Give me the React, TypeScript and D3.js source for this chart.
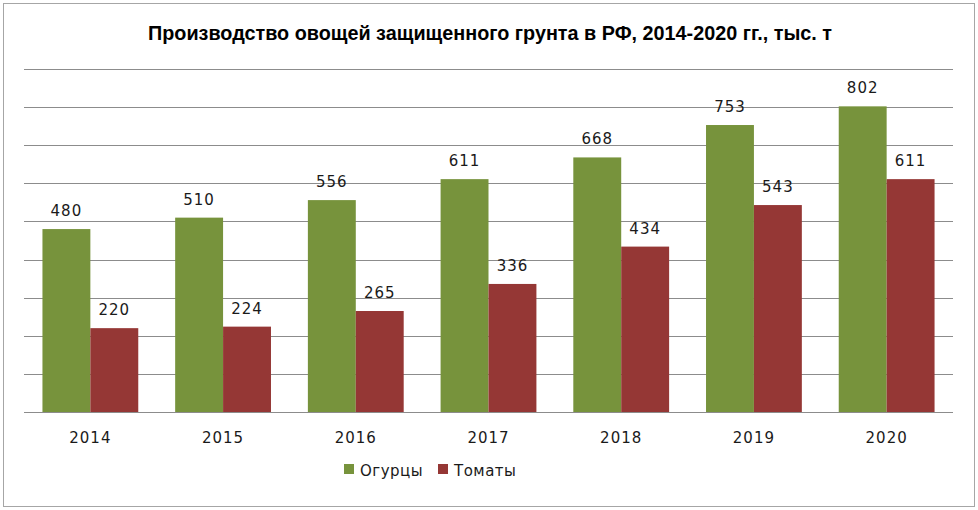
import { useEffect, useRef } from "react"
import * as d3 from "d3"

const YEARS = ["2014", "2015", "2016", "2017", "2018", "2019", "2020"]
const CUCUMBERS = [480, 510, 556, 611, 668, 753, 802]
const TOMATOES = [220, 224, 265, 336, 434, 543, 611]
const SERIES_NAMES = ["Огурцы", "Томаты"]
const SERIES_COLORS = ["#77933C", "#953735"]
const Y_TICKS = [0, 100, 200, 300, 400, 500, 600, 700, 800, 900]

const W = 978
const H = 510
const PLOT_L = 24
const PLOT_R = 953
const PLOT_T = 69
const PLOT_B = 412

const LABEL_FONT = "'DejaVu Sans', sans-serif"

export default function App() {
  const svgRef = useRef<SVGSVGElement>(null)

  useEffect(() => {
    if (!svgRef.current) return
    const svg = d3.select(svgRef.current)
    svg.selectAll("*").remove()

    // outer frame
    svg
      .append("rect")
      .attr("x", 3.5)
      .attr("y", 3.5)
      .attr("width", W - 7)
      .attr("height", H - 7)
      .attr("fill", "#fff")
      .attr("stroke", "#a6a6a6")
      .attr("stroke-width", 1)

    svg
      .append("text")
      .attr("x", 490)
      .attr("y", 40)
      .attr("text-anchor", "middle")
      .attr("font-family", "'Liberation Sans', Arial, sans-serif")
      .attr("font-weight", 700)
      .attr("font-size", 20)
      .attr("textLength", 684)
      .attr("lengthAdjust", "spacingAndGlyphs")
      .attr("fill", "#000")
      .text("Производство овощей защищенного грунта в РФ, 2014-2020 гг., тыс. т")

    const x0 = d3
      .scaleBand<string>()
      .domain(YEARS)
      .range([PLOT_L, PLOT_R])
      .paddingInner(0.278)
      .paddingOuter(0.139)

    const x1 = d3
      .scaleBand<number>()
      .domain([0, 1])
      .range([0, x0.bandwidth()])

    const y = d3.scaleLinear().domain([0, 900]).range([PLOT_B, PLOT_T])

    // gridlines
    svg
      .append("g")
      .selectAll("line")
      .data(Y_TICKS)
      .join("line")
      .attr("x1", PLOT_L)
      .attr("x2", PLOT_R)
      .attr("y1", (d) => Math.round(y(d)) + 0.5)
      .attr("y2", (d) => Math.round(y(d)) + 0.5)
      .attr("stroke", "#8c8c8c")
      .attr("stroke-width", 1)

    const series = [CUCUMBERS, TOMATOES]

    series.forEach((vals, si) => {
      const g = svg.append("g")
      g.selectAll("rect")
        .data(vals)
        .join("rect")
        .attr("x", (_, i) => x0(YEARS[i])! + x1(si)!)
        .attr("y", (d) => y(d))
        .attr("width", x1.bandwidth())
        .attr("height", (d) => PLOT_B - y(d))
        .attr("fill", SERIES_COLORS[si])

      g.selectAll("text")
        .data(vals)
        .join("text")
        .attr("x", (_, i) => x0(YEARS[i])! + x1(si)! + x1.bandwidth() / 2)
        .attr("y", (d) => y(d) - 13)
        .attr("text-anchor", "middle")
        .attr("font-family", LABEL_FONT)
        .attr("font-size", 15)
        .attr("letter-spacing", 1)
        .attr("fill", "#1a1a1a")
        .text((d) => d)
    })

    // baseline
    svg
      .append("line")
      .attr("x1", PLOT_L)
      .attr("x2", PLOT_R)
      .attr("y1", PLOT_B + 0.5)
      .attr("y2", PLOT_B + 0.5)
      .attr("stroke", "#8c8c8c")

    // category labels
    svg
      .append("g")
      .selectAll("text")
      .data(YEARS)
      .join("text")
      .attr("x", (d) => x0(d)! + x0.bandwidth() / 2)
      .attr("y", 443)
      .attr("text-anchor", "middle")
      .attr("font-family", LABEL_FONT)
      .attr("font-size", 15)
      .attr("letter-spacing", 1)
      .attr("fill", "#1a1a1a")
      .text((d) => d)

    // legend
    const legendX = [344, 438]
    SERIES_NAMES.forEach((name, i) => {
      svg
        .append("rect")
        .attr("x", legendX[i])
        .attr("y", 464)
        .attr("width", 10)
        .attr("height", 10)
        .attr("fill", SERIES_COLORS[i])
      svg
        .append("text")
        .attr("x", legendX[i] + 16)
        .attr("y", 476)
        .attr("font-family", LABEL_FONT)
        .attr("font-size", 15)
        .attr("letter-spacing", 0.5)
        .attr("fill", "#1a1a1a")
        .text(name)
    })
  }, [])

  return (
    <div style={{ position: "absolute", left: 0, top: 0 }}>
      <svg ref={svgRef} width={W} height={H} style={{ display: "block" }} />
    </div>
  )
}
